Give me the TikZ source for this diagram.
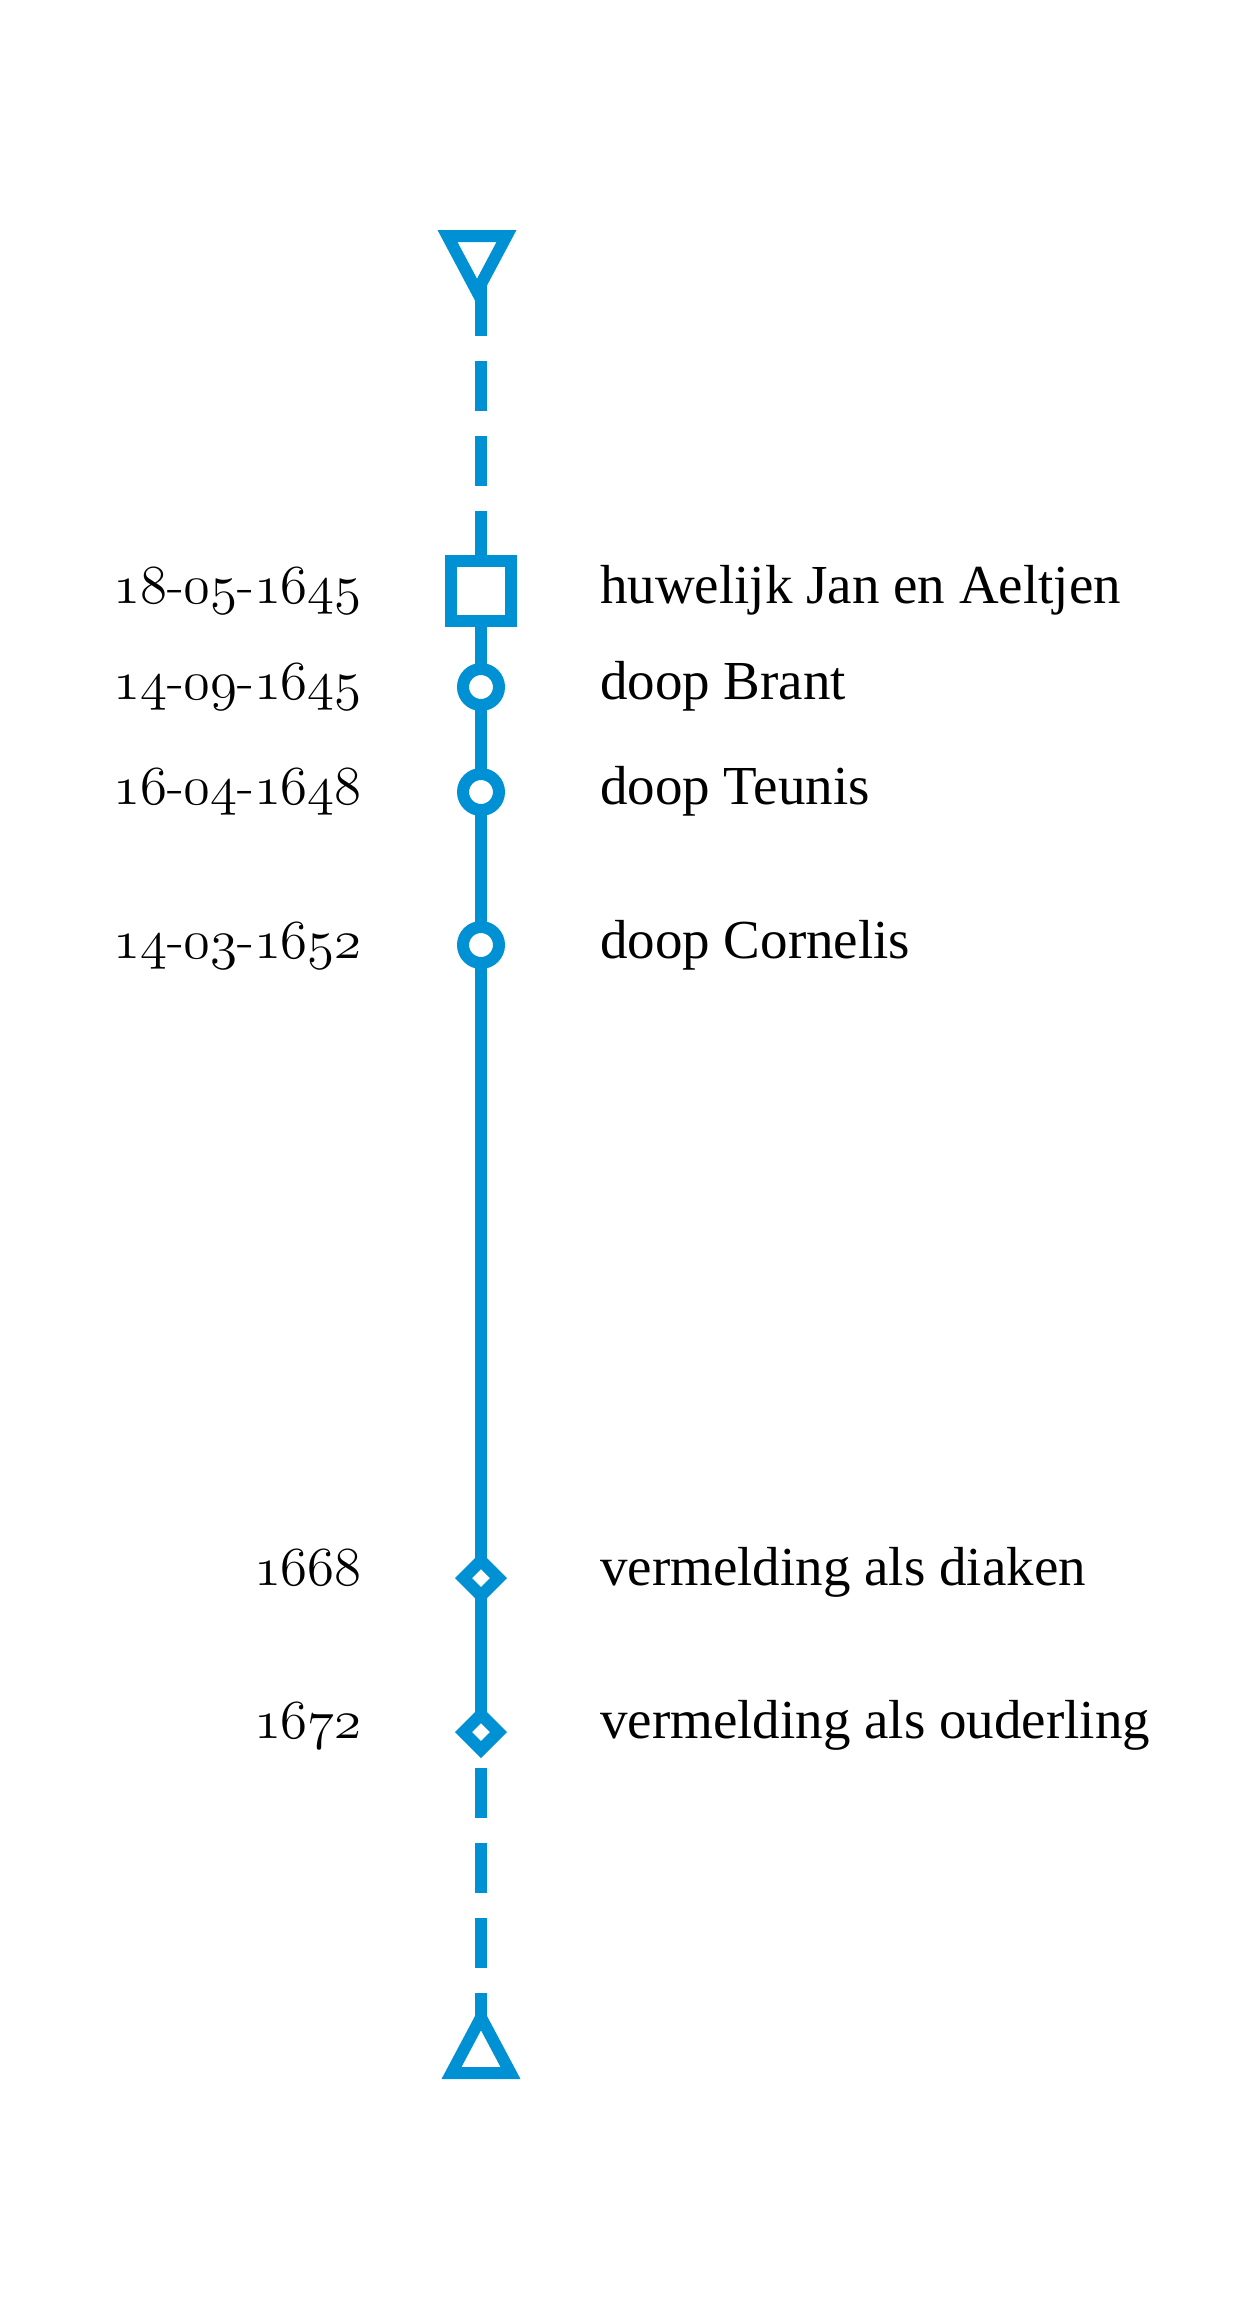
\documentclass[tikz,border=0pt]{standalone}
\usepackage{fontspec}
\newfontfamily\evfont{Liberation Serif}
\usetikzlibrary{shapes.geometric,backgrounds}
\definecolor{tlblue}{RGB}{0,144,212}
\font\odfont=cmmi12 at 55pt
\newcommand\od[1]{{\odfont #1}}
\tikzset{
  mk/.style={draw=tlblue, line width=12pt, fill=white, inner sep=0pt, outer sep=0pt},
  sqmk/.style={mk, rectangle, minimum size=60pt},
  cmk/.style={mk, circle, minimum size=36pt},
  dmk/.style={mk, diamond, minimum size=35pt},
  tl/.style={draw=tlblue, line width=12pt},
  dashedtl/.style={tl, dash pattern=on 50pt off 25pt},
  trimk/.style={draw=tlblue, line width=12pt, fill=white, line join=miter},
  datelbl/.style={anchor=base east, inner sep=0pt, font=\fontsize{55}{66}\selectfont},
  evlbl/.style={anchor=base west, inner sep=0pt, font=\evfont\fontsize{55}{66}\selectfont},
}
\begin{document}
\begin{tikzpicture}[x=1pt,y=-1pt]
\useasboundingbox (0,0) rectangle (1258,2316);
% markers
\node[sqmk] (sq) at (481,590.5) {};
\node[cmk] (c1) at (481,687) {};
\node[cmk] (c2) at (481,792) {};
\node[cmk] (c3) at (481,945) {};
\node[dmk] (d1) at (481,1578) {};
\node[dmk] (d2) at (481,1732) {};
\coordinate (t1) at (477,265);
\coordinate (t2) at (481,2050);
% connectors
\begin{scope}[on background layer]
  \draw[tl] (sq.center) -- (c1.center) -- (c2.center) -- (c3.center) -- (d1.center) -- (d2.center);
  \draw[dashedtl, dash phase=45pt] (sq.center) -- (sq.center |- t1);
  \draw[dashedtl, dash phase=39pt] (d2.center) -- (d2.center |- t2);
\end{scope}
% end triangles
\draw[trimk] (447.5,236) -- (506.5,236) -- (477,291.5) -- cycle;
\draw[trimk] (451.5,2073) -- (510.5,2073) -- (481,2017.5) -- cycle;
% dates
\node[datelbl] (l1) at (362,603) {\od{18}-\od{05}-\od{1645}};
\node[datelbl] (l2) at (362,699) {\od{14}-\od{09}-\od{1645}};
\node[datelbl] (l3) at (362,804) {\od{16}-\od{04}-\od{1648}};
\node[datelbl] (l4) at (362,958) {\od{14}-\od{03}-\od{1652}};
\node[datelbl] (l5) at (362,1585) {\od{1668}};
\node[datelbl] (l6) at (362,1738) {\od{1672}};
% events
\node[evlbl] (e1) at (600,603) {huwelijk Jan en Aeltjen};
\node[evlbl] (e2) at (600,699) {doop Brant};
\node[evlbl] (e3) at (600,804) {doop Teunis};
\node[evlbl] (e4) at (600,958) {doop Cornelis};
\node[evlbl] (e5) at (600,1585) {vermelding als diaken};
\node[evlbl] (e6) at (600,1738) {vermelding als ouderling};
\end{tikzpicture}
\end{document}
